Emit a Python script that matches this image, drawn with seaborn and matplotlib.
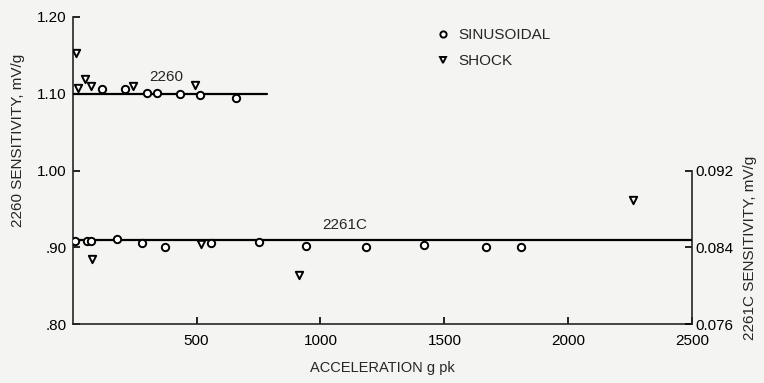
import matplotlib
matplotlib.use("Agg")
import matplotlib.pyplot as plt
import seaborn as sns
import pandas as pd

# ---- data ----
sin2260_x = [120, 210, 299, 340, 433, 514, 659]
sin2260_y = [1.1065, 1.1065, 1.1008, 1.1008, 1.100, 1.0978, 1.0948]
shk2260_x = [14, 21, 50, 73, 243, 494]
shk2260_y = [1.1527, 1.1078, 1.1186, 1.1095, 1.1095, 1.1108]

sin2261_x = [10, 57, 73, 178, 279, 374, 557, 752, 940, 1182, 1417, 1666, 1807]
sin2261_y = [0.08469, 0.08469, 0.08469, 0.08483, 0.08442, 0.08406, 0.08448,
             0.08452, 0.08417, 0.08400, 0.08424, 0.08400, 0.08406]
shk2261_x = [80, 518, 913, 2259]
shk2261_y = [0.08275, 0.08431, 0.08112, 0.08891]

fit2260_x = [0, 783]
fit2260_y = [1.100, 1.100]
fit2261_x = [0, 2500]
fit2261_y = [0.0848, 0.0848]

left_ticks = [0.80, 0.90, 1.00, 1.10, 1.20]
left_labels = [".80", ".90", "1.00", "1.10", "1.20"]
right_ticks = [0.076, 0.084, 0.092]
right_labels = ["0.076", "0.084", "0.092"]
x_ticks = [500, 1000, 1500, 2000, 2500]
x_labels = ["500", "1000", "1500", "2000", "2500"]

# ---- style ----
sns.set_style("ticks")
plt.rcParams['font.family'] = ['Liberation Sans', 'DejaVu Sans']
bg = '#f4f4f2'

fig = plt.figure(figsize=(7.64, 3.83), dpi=100, facecolor=bg)
ax = fig.add_axes([0.0949, 0.1532, 0.9064 - 0.0949, 0.9564 - 0.1532])
ax.set_facecolor(bg)
ax2 = ax.twinx()

lw = 1.6
ms = 28
mk_kw = dict(facecolor='white', edgecolor='black', linewidth=1.4, zorder=5)

sns.lineplot(x=fit2260_x, y=fit2260_y, ax=ax, color='black', lw=lw, zorder=3)
sns.scatterplot(x=sin2260_x, y=sin2260_y, ax=ax, marker='o', s=ms, **mk_kw)
sns.scatterplot(x=shk2260_x, y=shk2260_y, ax=ax, marker='v', s=ms, **mk_kw)

sns.lineplot(x=fit2261_x, y=fit2261_y, ax=ax2, color='black', lw=lw, zorder=3)
sns.scatterplot(x=sin2261_x, y=sin2261_y, ax=ax2, marker='o', s=ms, **mk_kw)
sns.scatterplot(x=shk2261_x, y=shk2261_y, ax=ax2, marker='v', s=ms, **mk_kw)

ax.set_xlim(0, 2500)
ax.set_ylim(0.80, 1.20)
ax2.set_ylim(0.076, 0.108)

ax.set_xticks(x_ticks)
ax.set_xticklabels(x_labels)
ax.set_yticks(left_ticks)
ax.set_yticklabels(left_labels)
ax2.set_yticks(right_ticks)
ax2.set_yticklabels(right_labels)

for a in (ax, ax2):
    a.spines['top'].set_visible(False)
    for s in a.spines.values():
        s.set_linewidth(1.2)
ax.spines['right'].set_visible(False)
ax2.spines['left'].set_visible(False)
ax2.spines['bottom'].set_visible(False)
ax2.spines['right'].set_bounds(0.076, 0.092)

ax.tick_params(axis='both', direction='in', length=5, width=1.2, labelsize=11, pad=4, colors='black')
ax.tick_params(axis='x', pad=7)
ax2.tick_params(axis='y', direction='in', length=5, width=1.2, labelsize=11, pad=2, colors='black')

ax.set_xlabel("ACCELERATION g pk", fontsize=10.5, labelpad=9)
ax.set_ylabel("")
ax2.set_ylabel("")
fig.text(18 / 764, 1 - 140 / 383, "2260 SENSITIVITY, mV/g", rotation=90,
         ha='center', va='center', fontsize=11)
fig.text(750 / 764, 1 - 248 / 383, "2261C SENSITIVITY, mV/g", rotation=90,
         ha='center', va='center', fontsize=11)

ax.text(380, 1.121, "2260", ha='center', va='center', fontsize=11)
ax.text(1099, 0.9286, "2261C", ha='center', va='center', fontsize=11)

# legend
from matplotlib.lines import Line2D
handles = [Line2D([], [], marker='o', ls='none', mfc='white', mec='black', mew=1.4, ms=4.5),
           Line2D([], [], marker='v', ls='none', mfc='white', mec='black', mew=1.4, ms=4.5)]
leg = fig.legend(handles, ["SINUSOIDAL", "SHOCK"], loc='upper left',
                 bbox_to_anchor=(437 / 764, 1 - 28 / 383), frameon=False,
                 fontsize=11, handlelength=0.8, handletextpad=0.6,
                 labelspacing=0.8, borderaxespad=0, borderpad=0)

fig.savefig("out.png", dpi=100, facecolor=bg)
